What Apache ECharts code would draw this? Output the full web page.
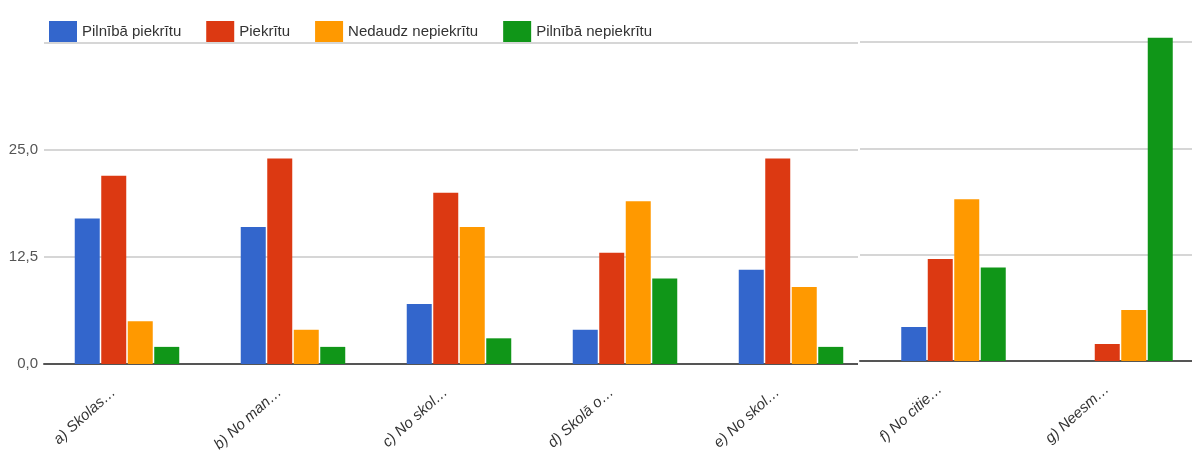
<!DOCTYPE html>
<html lang="lv">
<head>
    <title>Aptaujas rezultāti</title>
    <meta charset="utf-8">
    <script src="https://cdn.jsdelivr.net/npm/echarts@6.0.0/dist/echarts.min.js"></script>
    <style>
        html, body { margin: 0; padding: 0; background: #fff; }
        #container { width: 1192px; height: 452px; }
    </style>
</head>
<body>
<div id="container"></div>
<script type="text/javascript">
    // data
    var categories = ['a) Skolas…', 'b) No man…', 'c) No skol…', 'd) Skolā o…', 'e) No skol…', 'f) No citie…', 'g) Neesm…'];
    var seriesNames = ['Pilnībā piekrītu', 'Piekrītu', 'Nedaudz nepiekrītu', 'Pilnībā nepiekrītu'];
    var fullyAgree = [17, 16, 7, 4, 11, 4, 0];
    var agree = [22, 24, 20, 13, 24, 12, 2];
    var slightlyDisagree = [5, 4, 16, 19, 9, 19, 6];
    var fullyDisagree = [2, 2, 3, 10, 2, 11, 38];
    var yTicks = [0, 12.5, 25, 37.5];

    var colors = ['#3366cc', '#dc3912', '#ff9900', '#109618'];
    var values = [fullyAgree, agree, slightlyDisagree, fullyDisagree];
    var splitAt = 5; // the picture is two charts side by side

    var dom = document.getElementById("container");
    var myChart = echarts.init(dom);
    var option;

    var font = 'Liberation Sans, Arial, sans-serif';
    var gridLine = { lineStyle: { color: '#d6d6d6', width: 2 } };
    var baseLine = { show: true, lineStyle: { color: '#555', width: 2 } };
    var xLabel = {
        rotate: 42,
        margin: 14,
        padding: [0, 18, 0, 0],
        fontSize: 15,
        fontStyle: 'italic',
        fontFamily: font,
        color: '#333'
    };

    function yAxisFor(idx, labels) {
        return {
            type: 'value', gridIndex: idx, min: yTicks[0], max: yTicks[yTicks.length - 1], interval: 12.5,
            z: idx ? 60 : 0,
            axisLine: { show: false }, axisTick: { show: false }, splitLine: gridLine,
            axisLabel: labels ? {
                margin: 6,
                fontSize: 15,
                fontFamily: font,
                color: '#555',
                formatter: function (v) {
                    return v === 37.5 ? '' : v.toFixed(1).replace('.', ',');
                }
            } : { show: false }
        };
    }

    var series = [];
    values.forEach(function (v, i) {
        series.push({
            name: seriesNames[i],
            type: 'bar',
            xAxisIndex: 0,
            yAxisIndex: 0,
            barWidth: 25,
            barGap: '6%',
            itemStyle: { color: colors[i] },
            data: v.slice(0, splitAt)
        });
        series.push({
            name: seriesNames[i],
            type: 'bar',
            xAxisIndex: 1,
            yAxisIndex: 1,
            z: 60,
            clip: false,
            barWidth: 25,
            barGap: '6%',
            itemStyle: { color: colors[i] },
            data: v.slice(splitAt)
        });
    });

    option = {
        animation: false,
        color: colors,
        legend: {
            data: seriesNames,
            left: 44,
            top: 16,
            itemWidth: 28,
            itemHeight: 21,
            itemGap: 25,
            icon: 'rect',
            textStyle: { fontSize: 15, fontFamily: font, color: '#333' }
        },
        grid: [
            { left: 44, top: 43, width: 830, height: 321, outerBoundsMode: 'none', containLabel: false },
            { left: 870, top: 42, width: 334, height: 319, outerBoundsMode: 'none', containLabel: false },
            { left: 860, top: 42, width: 12, height: 319, outerBoundsMode: 'none', containLabel: false }
        ],
        xAxis: [
            {
                type: 'category', gridIndex: 0, data: categories.slice(0, splitAt),
                axisTick: { show: false }, axisLine: baseLine, axisLabel: xLabel
            },
            {
                type: 'category', gridIndex: 1, data: categories.slice(splitAt), z: 60,
                axisTick: { show: false }, axisLine: baseLine, axisLabel: xLabel
            },
            {
                type: 'category', gridIndex: 2, data: [''], z: 60,
                axisTick: { show: false }, axisLine: baseLine, axisLabel: { show: false }
            }
        ],
        yAxis: [yAxisFor(0, true), yAxisFor(1, false), yAxisFor(2, false)],
        graphic: {
            elements: [
                // hides the end of the left chart under the seam
                { type: 'rect', z: 50, shape: { x: 858, y: 30, width: 20, height: 340 }, style: { fill: '#fff' } }
            ]
        },
        series: series
    };

    if (option && typeof option === 'object') {
        myChart.setOption(option);
    }
</script>
</body>
</html>
